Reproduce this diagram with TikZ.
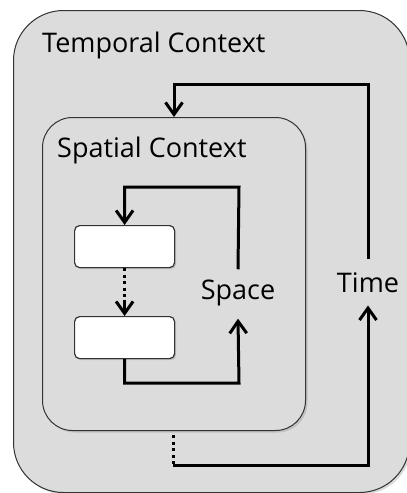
\documentclass[tikz,border=0pt]{standalone}
\usepackage{fontspec}
\setmainfont{Open Sans}
\usetikzlibrary{arrows.meta,shadows,calc}

\definecolor{ctxfill}{HTML}{DCDCDC}
\definecolor{ctxline}{HTML}{333333}

\tikzset{
  ctxbox/.style={draw=ctxline, line width=1pt, fill=ctxfill, rounded corners=#1,
    anchor=north west, inner sep=0pt,
    drop shadow={shadow xshift=2pt, shadow yshift=-2pt, opacity=0.3}},
  stepbox/.style={draw=ctxline, line width=1.2pt, fill=white, rounded corners=5pt,
    anchor=north west, inner sep=0pt, minimum width=100pt, minimum height=42pt,
    drop shadow={shadow xshift=1.5pt, shadow yshift=-1.5pt, opacity=0.35}},
  lbl/.style={inner sep=0pt, font=\fontsize{27}{32}\selectfont},
  tip/.style={-{Straight Barb[length=12pt,width=17pt]}},
  flow/.style={line width=3pt, tip},
  dots/.style={line width=3pt, dash pattern=on 3pt off 3.5pt},
}

\begin{document}
\begin{tikzpicture}[x=1pt,y=-1pt]
  \useasboundingbox (0,0) rectangle (407,493);
  \clip (0,0) rectangle (407,493);

  % containers
  \node[ctxbox=50pt, minimum width=396pt, minimum height=482pt] (outer) at (13,10) {};
  \node[lbl, anchor=base west] (tlabel) at (42,52) {Temporal Context};

  \node[ctxbox=30pt, minimum width=263pt, minimum height=313pt] (inner) at (42,117) {};
  \node[lbl, anchor=base west] (slabel) at (57,157) {Spatial Context};

  % steps
  \node[stepbox] (box1) at (74,225) {};
  \node[stepbox] (box2) at (74,316) {};

  % loop labels
  \node[lbl, anchor=base] (space) at (238,299) {Space};
  \node[lbl, anchor=base] (time) at (368,292) {Time};

  % bend points
  \coordinate (stop) at (239,187);
  \coordinate (sbot) at (239,383);
  \coordinate (ttop) at (368,84);
  \coordinate (tbot) at (173,465);
  \coordinate (tdot) at (173,435);

  % spatial loop
  \draw[flow] ($(space.north)+(0,-10)$) -- (stop) -| (box1.north);
  \draw[dots] (box1.south) -- ($(box2.north)+(0,-15)$);
  \draw[flow] ($(box2.north)+(0,-16)$) -- (box2.north);
  \draw[flow] (box2.south) |- (sbot) -- ($(space.south)+(0,13)$);

  % temporal loop
  \draw[flow] ($(time.north)+(0,-13)$) -- (ttop) -| (inner.north);
  \draw[dots] (tdot) -- (tbot);
  \draw[flow] (tbot) -| ($(time.south)+(0,13)$);
\end{tikzpicture}
\end{document}
